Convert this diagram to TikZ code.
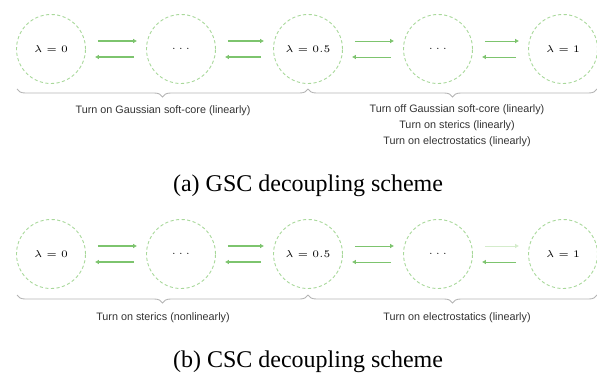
\documentclass[tikz,border=0pt]{standalone}
\usepackage{fontspec}
\setmainfont{Liberation Serif}
\setsansfont{Liberation Sans}
\usetikzlibrary{arrows.meta,decorations.pathreplacing}

\definecolor{ringgreen}{HTML}{A8D89A}
\definecolor{arrowgreen}{HTML}{7DC46E}
\definecolor{fadegreen}{HTML}{D4ECCB}
\definecolor{bracegray}{HTML}{B4B4B4}

\tikzset{
  state/.style={circle, draw=ringgreen, dash pattern=on 1.6pt off 1.2pt,
    line width=0.45pt, minimum size=34.5pt, inner sep=0pt,
    font=\fontsize{4.9}{6}\selectfont},
  heavy/.style={draw=arrowgreen, line width=1pt, shorten <=6pt, shorten >=4.5pt,
    -{Latex[length=2pt,width=2.4pt]}},
  light/.style={draw=arrowgreen, line width=0.45pt, shorten <=6pt, shorten >=4.5pt,
    -{Latex[length=2pt,width=2.4pt]}},
  faint/.style={light, draw=fadegreen},
  stagebrace/.style={draw=bracegray, line width=0.45pt,
    decorate, decoration={brace, mirror, amplitude=4pt}},
  note/.style={font=\sffamily\fontsize{5.4}{8}\selectfont, align=center,
    text=black!80, inner sep=0pt},
  caption/.style={font=\fontsize{12}{14}\selectfont, inner sep=0pt}
}

\begin{document}
\begin{tikzpicture}[x=0.5pt, y=-0.5pt]
  \useasboundingbox (0,0) rectangle (597,379);

  % ---- (a) GSC scheme ----
  \node[state] (a0) at (51,49)  {$\lambda = 0$};
  \node[state] (a1) at (181,49) {$\ldots$};
  \node[state] (a2) at (308,49) {$\lambda = 0.5$};
  \node[state] (a3) at (438,49) {$\ldots$};
  \node[state] (a4) at (563,49) {$\lambda = 1$};

  \draw[heavy] ([yshift=4pt]a0.east) -- ([yshift=4pt]a1.west);
  \draw[heavy] ([yshift=-4pt]a1.west) -- ([yshift=-4pt]a0.east);
  \draw[heavy] ([yshift=4pt]a1.east) -- ([yshift=4pt]a2.west);
  \draw[heavy] ([yshift=-4pt]a2.west) -- ([yshift=-4pt]a1.east);
  \draw[light] ([yshift=4pt]a2.east) -- ([yshift=4pt]a3.west);
  \draw[light] ([yshift=-4pt]a3.west) -- ([yshift=-4pt]a2.east);
  \draw[light] ([yshift=4pt]a3.east) -- ([yshift=4pt]a4.west);
  \draw[light] ([yshift=-4pt]a4.west) -- ([yshift=-4pt]a3.east);

  \coordinate (ab0) at (17,89);
  \coordinate (ab1) at (308,89);
  \coordinate (ab2) at (597,89);
  \draw[stagebrace] (ab0) -- (ab1);
  \draw[stagebrace] (ab1) -- (ab2);

  \node[note] (an1) at (163,111) {Turn on Gaussian soft-core (linearly)};
  \node[note, anchor=north] (an2) at (457,104)
    {Turn off Gaussian soft-core (linearly)\\Turn on sterics (linearly)\\Turn on electrostatics (linearly)};

  \node[caption] (capa) at (308,186) {(a) GSC decoupling scheme};

  % ---- (b) CSC scheme ----
  \node[state] (b0) at (51,254)  {$\lambda = 0$};
  \node[state] (b1) at (181,254) {$\ldots$};
  \node[state] (b2) at (308,254) {$\lambda = 0.5$};
  \node[state] (b3) at (438,254) {$\ldots$};
  \node[state] (b4) at (563,254) {$\lambda = 1$};

  \draw[heavy] ([yshift=4pt]b0.east) -- ([yshift=4pt]b1.west);
  \draw[heavy] ([yshift=-4pt]b1.west) -- ([yshift=-4pt]b0.east);
  \draw[heavy] ([yshift=4pt]b1.east) -- ([yshift=4pt]b2.west);
  \draw[heavy] ([yshift=-4pt]b2.west) -- ([yshift=-4pt]b1.east);
  \draw[light] ([yshift=4pt]b2.east) -- ([yshift=4pt]b3.west);
  \draw[light] ([yshift=-4pt]b3.west) -- ([yshift=-4pt]b2.east);
  \draw[faint] ([yshift=4pt]b3.east) -- ([yshift=4pt]b4.west);
  \draw[light] ([yshift=-4pt]b4.west) -- ([yshift=-4pt]b3.east);

  \coordinate (bb0) at (17,295);
  \coordinate (bb1) at (308,295);
  \coordinate (bb2) at (597,295);
  \draw[stagebrace] (bb0) -- (bb1);
  \draw[stagebrace] (bb1) -- (bb2);

  \node[note] (bn1) at (163,318) {Turn on sterics (nonlinearly)};
  \node[note] (bn2) at (457,318) {Turn on electrostatics (linearly)};

  \node[caption] (capb) at (308,362) {(b) CSC decoupling scheme};
\end{tikzpicture}
\end{document}
